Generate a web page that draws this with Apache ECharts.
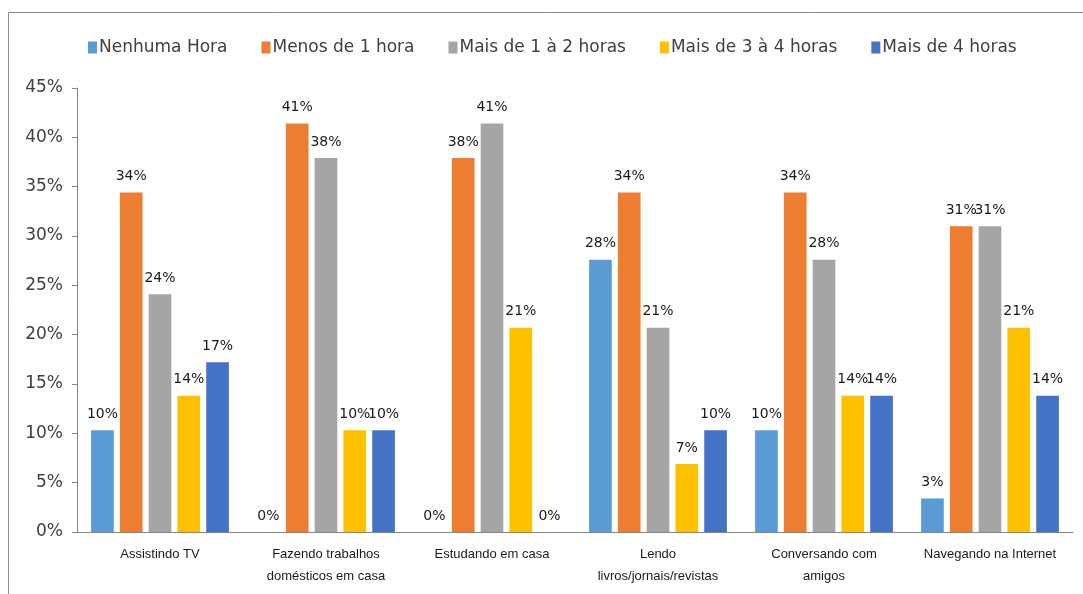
<!DOCTYPE html>
<html>
<head>
<meta charset="utf-8">
<script src="https://cdn.jsdelivr.net/npm/echarts@6/dist/echarts.min.js"></script>
<style>
  html, body { margin: 0; padding: 0; background: #fff; }
  #chart { width: 1083px; height: 594px; }
</style>
</head>
<body>
<div id="chart"></div>
<script>
var categories = ['Assistindo TV', 'Fazendo trabalhos\ndomésticos em casa', 'Estudando em casa',
  'Lendo\nlivros/jornais/revistas', 'Conversando com\namigos', 'Navegando na Internet'];
var seriesNames = ['Nenhuma Hora', 'Menos de 1 hora', 'Mais de 1 à 2 horas', 'Mais de 3 à 4 horas', 'Mais de 4 horas'];

// percentages
var nenhuma = [10.3, 0, 0, 27.6, 10.3, 3.4];
var menos1 = [34.4, 41.4, 37.9, 34.4, 34.4, 31.0];
var de1a2 = [24.1, 37.9, 41.4, 20.7, 27.6, 31.0];
var de3a4 = [13.8, 10.3, 20.7, 6.9, 13.8, 20.7];
var mais4 = [17.2, 10.3, 0, 10.3, 13.8, 13.8];

var yTicks = [0, 5, 10, 15, 20, 25, 30, 35, 40, 45];
var colors = ['#5B9BD5', '#ED7D31', '#A5A5A5', '#FFC000', '#4472C4'];

var chartDom = document.getElementById('chart');
var myChart = echarts.init(chartDom);

var allData = [nenhuma, menos1, de1a2, de3a4, mais4];
var series = allData.map(function (d, i) {
  return {
    name: seriesNames[i],
    type: 'bar',
    data: d,
    barGap: '27%',
    barCategoryGap: '17%',
    itemStyle: { color: colors[i] },
    label: {
      show: true,
      position: 'top',
      distance: 9,
      color: '#1a1a1a',
      fontFamily: 'DejaVu Sans',
      fontSize: 14,
      formatter: function (p) { return Math.round(p.value) + '%'; }
    }
  };
});

var option = {
  animation: false,
  color: colors,
  textStyle: { fontFamily: 'DejaVu Sans' },
  graphic: [{
    type: 'rect',
    shape: { x: 8.5, y: 12.5, width: 1200, height: 700 },
    style: { fill: 'none', stroke: '#8c8c8c', lineWidth: 1 },
    silent: true
  }],
  legend: {
    top: 34,
    left: 83,
    itemWidth: 9,
    itemHeight: 12,
    itemGap: 34,
    icon: 'rect',
    textStyle: { fontSize: 17, color: '#404040', fontFamily: 'DejaVu Sans', padding: [0, 0, 0, -3] },
    data: seriesNames
  },
  grid: { left: 77, right: 10, top: 88, bottom: 62 },
  xAxis: {
    type: 'category',
    data: categories,
    axisLine: { lineStyle: { color: '#868686' } },
    axisTick: { show: false },
    axisLabel: {
      color: '#1a1a1a',
      fontSize: 13,
      fontFamily: 'Liberation Sans',
      margin: 11,
      lineHeight: 22,
      interval: 0
    }
  },
  yAxis: {
    type: 'value',
    min: 0,
    max: 45,
    interval: 5,
    splitLine: { show: false },
    axisLine: { show: true, lineStyle: { color: '#868686' } },
    axisTick: { show: true, length: 5, lineStyle: { color: '#868686' } },
    axisLabel: {
      color: '#404040',
      fontSize: 17,
      fontFamily: 'DejaVu Sans',
      margin: 14,
      formatter: function (v) { return yTicks.indexOf(v) >= 0 ? v + '%' : ''; }
    }
  },
  series: series
};

myChart.setOption(option);
</script>
</body>
</html>
